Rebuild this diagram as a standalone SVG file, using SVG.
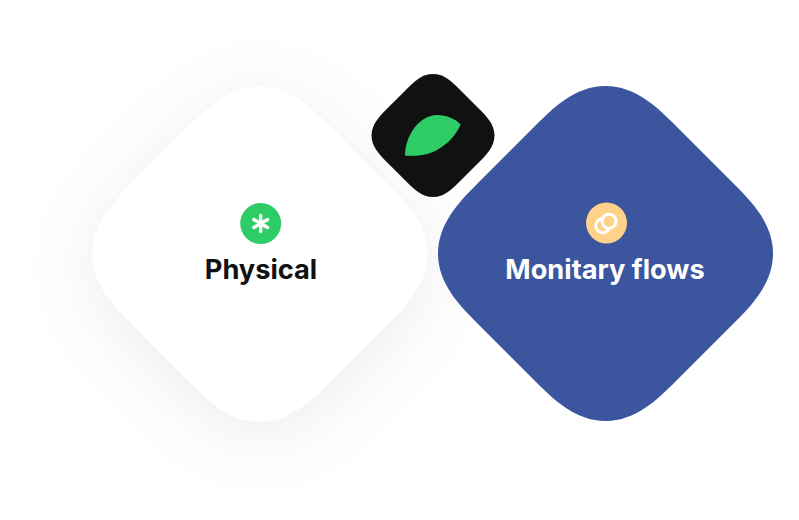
<svg xmlns="http://www.w3.org/2000/svg" width="799" height="520" viewBox="0 0 799 520">
<style>
.label{font-family:Inter,"Liberation Sans",sans-serif;font-size:27.2px;font-weight:700;text-anchor:middle}
.ring{fill:none;stroke:#fff;stroke-width:3}
</style>
<defs>
<path id="dia" d="M0,-167.5 C30,-167.5 52,-146 70,-128 L128,-70 C146,-52 167.5,-30 167.5,0 C167.5,30 146,52 128,70 L70,128 C52,146 30,167.5 0,167.5 C-30,167.5 -52,146 -70,128 L-128,70 C-146,52 -167.5,30 -167.5,0 C-167.5,-30 -146,-52 -128,-70 L-70,-128 C-52,-146 -30,-167.5 0,-167.5 Z"/>
<filter id="soft" x="-50%" y="-50%" width="200%" height="200%"><feDropShadow dx="0" dy="12" stdDeviation="36" flood-color="#000" flood-opacity="0.075"/></filter>
</defs>
<rect width="799" height="520" fill="#fff"/>
<g id="connectors"/>
<g id="physical">
<use href="#dia" transform="translate(259.7 254)" fill="#fff" filter="url(#soft)"/>
<circle cx="260.7" cy="223.5" r="20.5" fill="#2ecc67"/>
<path d="M260.7 215.5v16M253.8 219.5l13.8 8M253.8 227.5l13.8-8" stroke="#fff" stroke-width="3.4" stroke-linecap="round" fill="none"/>
<text class="label" x="261" y="278.5" fill="#111">Physical</text>
</g>
<g id="monitary-flows">
<use href="#dia" transform="translate(605.5 253.5)" fill="#3b559e"/>
<circle cx="606.5" cy="223" r="20.5" fill="#ffd28a"/>
<circle class="ring" cx="602.7" cy="225.7" r="7"/>
<circle cx="609" cy="221.3" r="7" fill="#ffd28a" stroke="#fff" stroke-width="3"/>
<text class="label" x="605" y="278.5" fill="#fff">Monitary flows</text>
</g>
<g id="leaf">
<use href="#dia" transform="translate(433 135.5) scale(0.367)" fill="#111"/>
<path d="M405 155.7C405 135 420 115 437 115C447 115 455 119 460.7 124.3C453 142 435 155.7 415 155.7Z" fill="#2ecc67"/>
</g>
</svg>
